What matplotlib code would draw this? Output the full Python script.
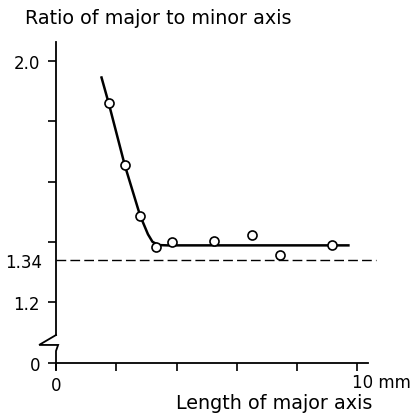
import numpy as np
import matplotlib.pyplot as plt

# measured points (length of major axis in mm, ratio major/minor)
length_mm = [1.75, 2.28, 2.79, 3.33, 3.85, 5.24, 6.51, 7.44, 9.14]
ratio = [1.86, 1.655, 1.487, 1.382, 1.400, 1.404, 1.424, 1.357, 1.390]

# hand-drawn fitted curve through the points
curve_x = [1.51, 1.75, 2.28, 2.79, 3.05, 3.2, 3.4, 3.7, 9.7]
curve_y = [1.946, 1.86, 1.655, 1.487, 1.425, 1.400, 1.389, 1.388, 1.388]

asymptote = 1.34
zero_pos = 0.997  # where the "0" of the broken y axis sits

W, H = 419, 414
fig = plt.figure(figsize=(W / 100, H / 100), dpi=100)
plt.rcParams['font.family'] = 'DejaVu Sans'
fs = 12

left, right, bottom, top = 56, 368, 364, 43
ax = fig.add_axes([left / W, 1 - bottom / H, (right - left) / W, (bottom - top) / H])
ax.set_xlim(0, 10.35)
ax.set_ylim(zero_pos, 2.064)

for s in ['top', 'right', 'left']:
    ax.spines[s].set_visible(False)
ax.spines['bottom'].set_linewidth(1.3)

# curve and points
ax.plot(curve_x, curve_y, color='black', lw=1.8, zorder=2)
ax.plot(length_mm, ratio, 'o', ms=6.5, mfc='white', mec='black', mew=1.2, zorder=3)

# dashed asymptote
ax.plot([0, 10.6], [asymptote, asymptote], color='black', lw=1.0,
        dashes=(7, 3), clip_on=False)

# broken y axis drawn by hand
kw = dict(color='black', lw=1.3, clip_on=False, solid_joinstyle='miter')
ax.plot([0, 0], [2.064, 1.090], **kw)
ax.plot([0, -0.56, 0.07, 0.0, 0.0], [1.090, 1.057, 1.057, 1.037, 0.975], **kw)

# ticks
ax.set_yticks([zero_pos, 1.2, 1.4, 1.6, 1.8, 2.0])
ax.set_yticklabels(['0', '1.2', '', '', '', '2.0'])
ax.set_xticks([0, 2, 4, 6, 8, 10])
ax.set_xticklabels(['0', '', '', '', '', ''])
ax.tick_params(axis='both', direction='out', length=6, width=1.2, labelsize=fs)
ax.tick_params(axis='y', pad=5.5)

fig.text(42 / W, 1 - 263 / H, '1.34', ha='right', va='center', fontsize=fs)
fig.text(352 / W, 1 - 388 / H, '10 mm', ha='left', va='baseline', fontsize=fs)
fig.text(25 / W, 1 - 24 / H, 'Ratio of major to minor axis', fontsize=13.8,
         ha='left', va='baseline')
fig.text(372 / W, 1 - 409 / H, 'Length of major axis', fontsize=13.8,
         ha='right', va='baseline')

fig.savefig('out.png', dpi=100)
